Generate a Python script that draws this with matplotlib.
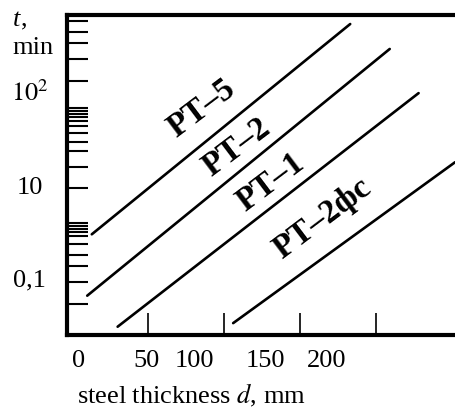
import numpy as np
import matplotlib.pyplot as plt
from matplotlib.ticker import FixedLocator, FixedFormatter, NullFormatter

plt.rcParams['font.family'] = ['Liberation Serif', 'DejaVu Serif']
plt.rcParams['mathtext.fontset'] = 'stix'

# heating time t (min) vs steel thickness d (mm)
grades = ['PT–5', 'PT–2', 'PT–1', 'PT–2фc']
d_values = [
    [13, 183],
    [10, 209],
    [30, 228],
    [106, 252],
]
t_values = [
    [3.1, 507],
    [0.70, 277],
    [0.33, 95],
    [0.36, 17.8],
]

# where the grade names sit (d, t)
label_d = [85.5, 108, 130.5, 165]
label_t = [66, 25.7, 10.8, 4.6]

x_tick_marks = [50, 100, 150, 200]
x_label_pos = [4.6, 48.7, 80.3, 127, 167.8]
x_label_txt = ['0', '50', '100', '150', '200']

y_tick_marks = [550, 421, 322, 216, 128, 65.8, 61.5, 57.7, 53.6, 48.7, 42.8,
                35.9, 29.3, 23.5, 15.7, 9.46, 4.05, 3.79, 3.55, 3.30, 2.98,
                2.43, 1.88, 1.44, 0.969, 0.573]
y_label_pos = [1.08, 10, 100]
y_label_txt = ['0,1', '10', r'$10^2$']

FS = 19

fig = plt.figure(figsize=(4.56, 4.08), dpi=100)
ax = fig.add_axes([67 / 456, 73 / 408, 389 / 456, 320 / 408])

for d, t in zip(d_values, t_values):
    ax.plot(d, t, color='black', linewidth=1.9, solid_capstyle='round')

for name, d, t in zip(grades, label_d, label_t):
    ax.text(d, t, name, rotation=37, ha='center', va='center',
            fontsize=24, fontweight='bold', rotation_mode='anchor')

ax.set_yscale('log')
ax.set_xlim(-3.3, 252.6)
ax.set_ylim(0.27, 631)

for side in ['left', 'top', 'bottom']:
    ax.spines[side].set_linewidth(3)
ax.spines['right'].set_visible(False)

ax.xaxis.set_major_locator(FixedLocator(x_label_pos))
ax.xaxis.set_major_formatter(FixedFormatter(x_label_txt))
ax.xaxis.set_minor_locator(FixedLocator(x_tick_marks))
ax.xaxis.set_minor_formatter(NullFormatter())
ax.tick_params(axis='x', which='major', length=0, pad=11, labelsize=FS)
ax.tick_params(axis='x', which='minor', direction='in', length=16, width=1.2)

ax.yaxis.set_major_locator(FixedLocator(y_label_pos))
ax.yaxis.set_major_formatter(FixedFormatter(y_label_txt))
ax.yaxis.set_minor_locator(FixedLocator(y_tick_marks))
ax.yaxis.set_minor_formatter(NullFormatter())
ax.tick_params(axis='y', which='major', length=0, pad=27, labelsize=FS)
ax.tick_params(axis='y', which='minor', direction='in', length=15, width=1.5)
for lab in ax.get_yticklabels():
    lab.set_horizontalalignment('center')

ax.text(-0.087, 284, 'min', transform=ax.get_yaxis_transform(),
        ha='center', va='center', fontsize=FS)
ax.text(-0.139, 560, 't', transform=ax.get_yaxis_transform(),
        ha='left', va='center', fontsize=FS, style='italic')
ax.text(-0.118, 560, ',', transform=ax.get_yaxis_transform(),
        ha='left', va='center', fontsize=FS)

ax.set_xlabel('steel thickness $\\it{d}$, mm', fontsize=FS)
ax.xaxis.set_label_coords(0.319, -0.1875)
ax.xaxis.label.set_verticalalignment('center')

fig.savefig('out.png', dpi=100)
